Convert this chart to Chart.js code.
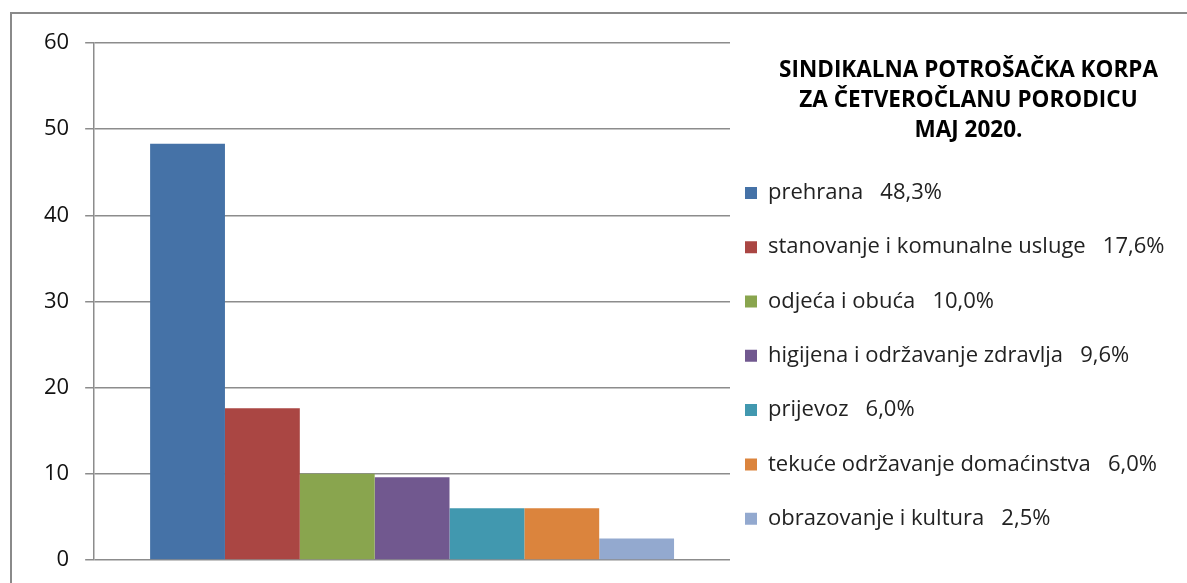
<!DOCTYPE html>
<html>
<head>
<meta charset="utf-8">
<script src="https://cdn.jsdelivr.net/npm/chart.js@4/dist/chart.umd.min.js"></script>
<style>
  html, body { margin: 0; padding: 0; background: #fff; overflow: hidden; }
  #frame {
    position: absolute; left: 10px; top: 12px; width: 1200px; height: 600px;
    border-left: 2px solid #8a8a8a; border-top: 2px solid #8a8a8a;
  }
  #korpa { position: absolute; left: 0; top: 0; }
</style>
</head>
<body>
<div id="frame"></div>
<canvas id="korpa" width="1187" height="583"></canvas>
<script>
// Podaci sa slike
const categories = ['MAJ 2020.'];
const seriesNames = [
    'prehrana',
    'stanovanje i komunalne usluge',
    'odjeća i obuća',
    'higijena i održavanje zdravlja',
    'prijevoz',
    'tekuće održavanje domaćinstva',
    'obrazovanje i kultura'
];
const seriesValues = [48.3, 17.6, 10.0, 9.6, 6.0, 6.0, 2.5];
const seriesLabels = ['48,3%', '17,6%', '10,0%', '9,6%', '6,0%', '6,0%', '2,5%'];
const yTicks = [0, 10, 20, 30, 40, 50, 60];
const titleLines = ['SINDIKALNA POTROŠAČKA KORPA', 'ZA ČETVEROČLANU PORODICU', 'MAJ 2020.'];

const colors = ['#4572A7', '#AA4643', '#89A54E', '#71588F', '#4198AF', '#DB843D', '#93A9CF'];
const fontFamily = '"Open Sans", Lato, sans-serif';
const legendFontSize = 22;
const legendPadding = 32.3;

const datasets = seriesNames.map((name, i) => ({
    label: name + '   ' + seriesLabels[i],
    data: [seriesValues[i]],
    backgroundColor: colors[i],
    borderWidth: 0,
    barPercentage: 1,
    categoryPercentage: 0.824
}));

// legenda malo ulijevo, naslov iznad nje
const legendTitle = {
    id: 'legendTitle',
    afterLayout(chart) {
        const shift = legendPadding - 15;
        chart.legend.left -= shift;
        chart.legend.right -= shift;
        chart.legend.top += 2;
        chart.legend.bottom += 2;
    },
    afterDraw(chart) {
        const ctx = chart.ctx;
        const x = (chart.chartArea.right + chart.width) / 2 + 10;
        ctx.save();
        ctx.fillStyle = '#000';
        ctx.font = 'bold 22.5px ' + fontFamily;
        ctx.textAlign = 'center';
        ctx.textBaseline = 'middle';
        titleLines.forEach((line, i) => ctx.fillText(line, x, 70.5 + i * 30));
        ctx.restore();
    }
};

const config = {
    type: 'bar',
    data: { labels: categories, datasets: datasets },
    options: {
        responsive: false,
        animation: false,
        layout: { padding: { top: 43, left: 28, right: 0, bottom: 23 } },
        plugins: {
            tooltip: { enabled: false },
            legend: {
                position: 'right',
                align: 'end',
                maxWidth: 457,
                labels: {
                    color: '#222',
                    font: { family: fontFamily, size: legendFontSize },
                    boxWidth: 12,
                    boxHeight: 12,
                    padding: legendPadding
                }
            }
        },
        scales: {
            x: {
                display: false
            },
            y: {
                min: 0,
                max: 60,
                afterBuildTicks: axis => { axis.ticks = yTicks.map(v => ({ value: v })); },
                grid: { color: '#8c8c8c', lineWidth: 1.5, tickLength: 9 },
                border: { color: '#8c8c8c', width: 1.5 },
                ticks: {
                    color: '#111',
                    padding: 16,
                    font: { family: fontFamily, size: 22, lineHeight: 0.6 }
                }
            }
        }
    },
    plugins: [legendTitle]
};

window.onload = function() {
    const ctx = document.getElementById('korpa').getContext('2d');
    new Chart(ctx, config);
};
</script>
</body>
</html>
